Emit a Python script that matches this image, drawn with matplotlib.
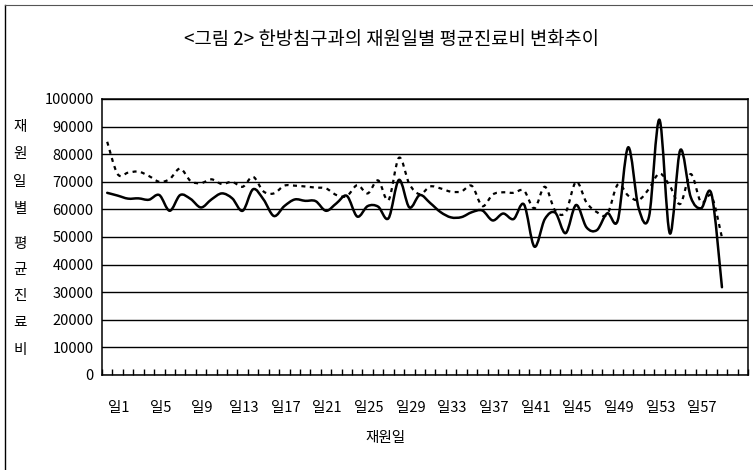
import matplotlib
matplotlib.use('Agg')
import matplotlib.pyplot as plt
import numpy as np
from matplotlib.path import Path
from matplotlib.patches import PathPatch
from matplotlib.lines import Line2D

plt.rcParams['font.family'] = ['Noto Sans CJK KR', 'DejaVu Sans']

# ---------------- data ----------------
title = '<그림 2> 한방침구과의 재원일별 평균진료비 변화추이'
x_title = '재원일'
y_title_top = ['재', '원', '일', '별']
y_title_bottom = ['평', '균', '진', '료', '비']

n_categories = 62
days = list(range(1, 61))

series_solid = [66000, 65000, 63900, 64000, 63500, 65200, 59500, 65200, 63800, 60700,
                63600, 65800, 64000, 59500, 67300, 63600, 57600, 61200, 63600, 63100,
                63000, 59500, 62200, 64900, 57400, 61200, 61000, 56800, 70700, 60700,
                65200, 62300, 59000, 57100, 57200, 59000, 59600, 56000, 58500, 56500,
                61800, 46500, 56500, 58800, 51400, 61600, 53500, 52500, 58600, 56000,
                82500, 60500, 57400, 92500, 51300, 81500, 64500, 60400, 65500, 31800]

series_dotted = [84500, 72800, 73300, 73700, 72100, 70000, 71000, 74800, 70300, 69500,
                 70900, 69200, 70000, 68200, 71800, 66500, 65800, 68600, 68600, 68300,
                 67900, 67600, 65200, 64800, 68800, 65800, 70500, 63400, 78700, 69200,
                 65500, 68300, 67600, 66400, 66500, 68500, 61200, 65400, 66200, 66000,
                 66800, 60400, 68200, 59500, 59000, 70000, 62500, 59000, 58300, 69000,
                 65000, 63400, 67500, 73000, 68500, 62000, 72800, 62500, 64800, 49800]

tick_days = [1, 5, 9, 13, 17, 21, 25, 29, 33, 37, 41, 45, 49, 53, 57]
tick_labels = ['일1', '일5', '일9', '일13', '일17', '일21', '일25', '일29', '일33',
               '일37', '일41', '일45', '일49', '일53', '일57']
y_ticks = [0, 10000, 20000, 30000, 40000, 50000, 60000, 70000, 80000, 90000, 100000]


def smooth_path(x, y):
    pts = np.column_stack([x, y]).astype(float)
    n = len(pts)
    verts = [pts[0]]
    codes = [Path.MOVETO]
    for i in range(n - 1):
        p0 = pts[i - 1] if i > 0 else pts[i]
        p1 = pts[i]
        p2 = pts[i + 1]
        p3 = pts[i + 2] if i + 2 < n else pts[i + 1]
        c1 = p1 + (p2 - p0) / 6.0
        c2 = p2 - (p3 - p1) / 6.0
        verts += [c1, c2, p2]
        codes += [Path.CURVE4] * 3
    return Path(verts, codes)


W, H = 753, 470
fig = plt.figure(figsize=(W / 100, H / 100), dpi=100)
ax = fig.add_axes([102 / W, 1 - 375 / H, (748 - 102) / W, (375 - 99) / H])

ax.set_xlim(0.5, n_categories + 0.5)
ax.set_ylim(0, 100000)

# grid
ax.set_yticks(y_ticks)
ax.set_yticklabels([str(v) for v in y_ticks])
ax.yaxis.grid(True, color='black', linewidth=1.0)
ax.set_axisbelow(True)
ax.tick_params(axis='y', length=0, pad=6, labelsize=10.5)

# x ticks: labels (offset as in the original) + category boundary ticks
ax.set_xticks([d + 1.1 for d in tick_days])
ax.set_xticklabels(tick_labels)
ax.tick_params(axis='x', which='major', length=0, pad=19, labelsize=10.5)
ax.set_xticks(np.arange(0.5, n_categories + 1, 1.0), minor=True)
ax.tick_params(axis='x', which='minor', direction='in', length=4, width=1.0, color='black')

for s in ax.spines.values():
    s.set_color('black')
    s.set_linewidth(1.1)

# lines
p_dot = smooth_path(days, series_dotted)
ax.add_patch(PathPatch(p_dot, fill=False, edgecolor='black', linewidth=1.6,
                       linestyle=(0, (1.8, 2.0)), transform=ax.transData))
p_sol = smooth_path(days, series_solid)
ax.add_patch(PathPatch(p_sol, fill=False, edgecolor='black', linewidth=1.8,
                       transform=ax.transData, capstyle='round', joinstyle='round'))

# titles
fig.text(391 / W, 1 - 40 / H, title, ha='center', va='center', fontsize=13.5)
fig.text(385 / W, 1 - 438 / H, x_title, ha='center', va='center', fontsize=10.5)

top_y = [127, 154, 182, 209]
bot_y = [244, 270, 296, 323, 350]
for ch, yy in zip(y_title_top, top_y):
    fig.text(20 / W, 1 - yy / H, ch, ha='center', va='center', fontsize=10.5)
for ch, yy in zip(y_title_bottom, bot_y):
    fig.text(20 / W, 1 - yy / H, ch, ha='center', va='center', fontsize=10.5)

# outer frame (left and top edges visible in the original)
fig.add_artist(Line2D([5 / W, 5 / W], [0, 1 - 5 / H], color='black', linewidth=1.0,
                      transform=fig.transFigure))
fig.add_artist(Line2D([5 / W, 1], [1 - 5 / H, 1 - 5 / H], color='#555555', linewidth=0.8,
                      transform=fig.transFigure))

fig.savefig('out.png', dpi=100, facecolor='white')
